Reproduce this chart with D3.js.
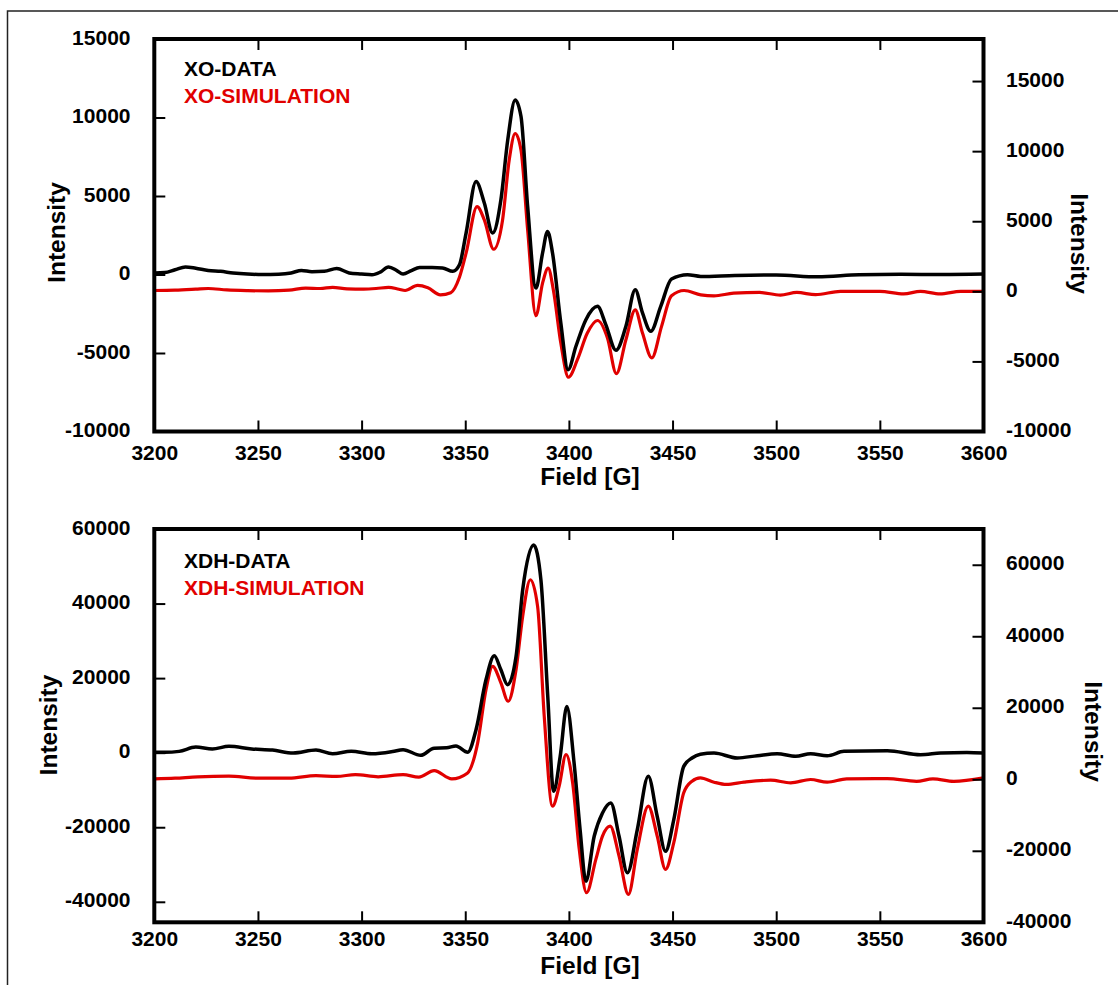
<!DOCTYPE html>
<html>
<head>
<meta charset="utf-8">
<script src="https://cdn.jsdelivr.net/npm/d3@7/dist/d3.min.js"></script>
<style>
  html, body { margin: 0; padding: 0; background: #fff; }
  svg { display: block; }
  text { font-family: "Liberation Sans", Arial, sans-serif; font-weight: bold; }
</style>
</head>
<body>
<svg id="chart" width="1118" height="985"></svg>
<script>
// ---------------- DATA ----------------
const fieldTicks = [3200, 3250, 3300, 3350, 3400, 3450, 3500, 3550, 3600];
const xoLeftTicks = [-10000, -5000, 0, 5000, 10000, 15000];
const xoRightTicks = [-10000, -5000, 0, 5000, 10000, 15000];
const xdhLeftTicks = [-40000, -20000, 0, 20000, 40000, 60000];
const xdhRightTicks = [-40000, -20000, 0, 20000, 40000, 60000];

const xoLegend = ["XO-DATA", "XO-SIMULATION"];
const xdhLegend = ["XDH-DATA", "XDH-SIMULATION"];

// [Field (G), Intensity]
const xoData = [[3200,100],[3205,120],[3210,300],[3215,480],[3220,400],[3226,260],[3232,200],[3238,100],[3245,30],[3252,0],[3260,20],[3266,100],[3271,260],[3276,180],[3282,200],[3288,380],[3294,100],[3300,30],[3305,-20],[3309,150],[3313,480],[3317,250],[3320,30],[3324,250],[3328,450],[3334,450],[3339,420],[3344,200],[3347.2,620],[3350.4,2640],[3355.2,5920],[3359.2,4550],[3363.2,2640],[3367.2,4760],[3370.5,8575],[3374.1,11120],[3376.9,10060],[3380.1,4330],[3384.1,-860],[3387.3,1370],[3389.7,2740],[3392.1,1370],[3396.1,-3090],[3399.6,-6060],[3403.4,-4570],[3408.2,-2880],[3413.8,-2030],[3417.8,-3190],[3422.7,-4830],[3427.5,-3300],[3432,-970],[3435.5,-2450],[3439.5,-3620],[3444.3,-2030],[3449.5,-290],[3457.2,-10],[3463.6,-120],[3480,-60],[3500,-30],[3520,-150],[3540,-20],[3560,10],[3580,0],[3600,30]];

const xoSim = [[3200,60],[3210,80],[3220,150],[3226,200],[3235,100],[3245,50],[3255,30],[3265,80],[3273,230],[3280,200],[3286,280],[3293,180],[3301,160],[3307,200],[3313,280],[3318,150],[3321,60],[3327,420],[3332,250],[3338,-250],[3343,-100],[3347.2,1000],[3350.4,2720],[3355.7,6040],[3359.2,5090],[3363.7,3000],[3368,5090],[3371.2,9360],[3374.1,11260],[3376.9,10070],[3380.1,4380],[3384.1,-1740],[3387.3,580],[3390,1650],[3392.5,100],[3396.1,-3690],[3399.8,-6130],[3404.1,-4880],[3408.9,-2980],[3413.8,-2080],[3418.6,-3330],[3422.9,-5870],[3427.5,-3450],[3432,-1320],[3435.5,-2980],[3440,-4750],[3444.7,-2500],[3449.5,-320],[3455.6,60],[3463.6,-250],[3470,-320],[3479.5,-130],[3492,-80],[3502,-270],[3510,-80],[3519,-240],[3531,0],[3550,0],[3561.5,-180],[3569.6,0],[3579,-180],[3589,0],[3600,0]];

const xdhData = [[3200,100],[3205,100],[3212,350],[3220,1500],[3228,1000],[3236,1700],[3247,1000],[3257,700],[3267,-100],[3278,700],[3286,-300],[3295,350],[3305,-300],[3315,300],[3320,800],[3328.5,-700],[3335,1200],[3341,1300],[3345.5,1800],[3351.2,90],[3355.2,6160],[3360,19550],[3364,25980],[3367.2,22230],[3370.4,18210],[3374.5,25800],[3377.7,43660],[3383,55720],[3386.5,46340],[3389.8,15090],[3392.6,-10360],[3395.8,-990],[3399,12400],[3402.5,-2760],[3405.4,-20630],[3408.2,-34470],[3412.2,-22420],[3416.2,-16160],[3420.2,-13480],[3424.2,-22420],[3428.2,-32230],[3433,-20630],[3438.3,-6350],[3442.6,-17070],[3446.6,-26450],[3450.6,-17950],[3455.4,-3670],[3459.4,-1420],[3463.4,-400],[3470,-90],[3481.2,-1420],[3490.9,-800],[3500.5,-270],[3509.4,-990],[3516.6,-270],[3524.6,-800],[3532.7,350],[3553.6,530],[3569.6,-540],[3579.3,-90],[3592,80],[3600,-90]];

const xdhSim = [[3200,100],[3210,300],[3221,700],[3236,870],[3250,300],[3265,300],[3278,1000],[3288,800],[3297,1300],[3308,700],[3320,1300],[3327.6,600],[3335,2400],[3343.5,100],[3351,1700],[3356,10200],[3360,25080],[3363.2,31590],[3367.2,26960],[3370.7,21820],[3374.5,30670],[3377.7,45560],[3381.4,55810],[3384.9,48350],[3388.1,17630],[3392.1,-7510],[3395.3,-1930],[3398.6,6930],[3401.8,-980],[3405,-19610],[3408.5,-31700],[3413,-22400],[3416.2,-15890],[3419.9,-13100],[3424.2,-21480],[3428.7,-32180],[3433,-19610],[3438.3,-7510],[3442.6,-15890],[3446.6,-25200],[3450.6,-17740],[3455.4,-3770],[3459.4,-530],[3463.4,420],[3470,-810],[3476,-1450],[3484.5,-810],[3497.3,-250],[3507,-980],[3516.6,-60],[3524.6,-810],[3534,120],[3553.6,200],[3567.7,-560],[3575.6,120],[3585.7,-560],[3600,400]];

// ---------------- DRAW ----------------
const svg = d3.select("#chart");
const BLACK = "#000000", RED = "#e10000";
const TICK_FONT = 21, TITLE_FONT = 24.5;

svg.append("rect").attr("x", 7.5).attr("y", 11).attr("width", 1300).attr("height", 1300)
  .attr("fill", "none").attr("stroke", "#222").attr("stroke-width", 1.5);

const panels = [
  { top: 39, bottom: 431.5, leftDom: [-10000, 15000], rightDom: [-10000, 18000],
    leftTicks: xoLeftTicks, rightTicks: xoRightTicks, data: xoData, sim: xoSim, legend: xoLegend,
    legendY: [76, 102.7], xPad: 13.6, titleY: 485,
    leftTitle: { x: 64.5, y: 232.5 }, rightTitle: { x: 1071, y: 243.5 } },
  { top: 529, bottom: 922.3, leftDom: [-45500, 60000], rightDom: [-40000, 70000],
    leftTicks: xdhLeftTicks, rightTicks: xdhRightTicks, data: xdhData, sim: xdhSim, legend: xdhLegend,
    legendY: [568, 595], xPad: 8.3, titleY: 974,
    leftTitle: { x: 57, y: 725 }, rightTitle: { x: 1085, y: 731.5 } }
];

const X0 = 154.3, X1 = 983.5;
const fmt = d => String(d);

panels.forEach(p => {
  const x = d3.scaleLinear().domain([3200, 3600]).range([X0, X1]);
  const yL = d3.scaleLinear().domain(p.leftDom).range([p.bottom, p.top]);
  const yR = d3.scaleLinear().domain(p.rightDom).range([p.bottom, p.top]);

  const g = svg.append("g");

  // lines
  const lineL = d3.line().x(d => x(d[0])).y(d => yL(d[1])).curve(d3.curveMonotoneX);
  const lineR = d3.line().x(d => x(d[0])).y(d => yR(d[1])).curve(d3.curveMonotoneX);
  g.append("path").datum(p.sim).attr("d", lineR).attr("fill", "none")
    .attr("stroke", RED).attr("stroke-width", 3.2).attr("stroke-linejoin", "round");
  g.append("path").datum(p.data).attr("d", lineL).attr("fill", "none")
    .attr("stroke", BLACK).attr("stroke-width", 3.5).attr("stroke-linejoin", "round");

  // axes
  const styleAxis = sel => {
    sel.select(".domain").remove();
    sel.selectAll(".tick line").attr("stroke", "#000").attr("stroke-width", 2);
    sel.selectAll(".tick text").attr("fill", "#000")
      .style("font-size", TICK_FONT + "px").style("font-weight", "bold")
      .style("font-family", '"Liberation Sans", Arial, sans-serif');
  };
  g.append("g").attr("transform", `translate(0,${p.bottom})`)
    .call(d3.axisBottom(x).tickValues(fieldTicks).tickFormat(fmt).tickSize(-11).tickPadding(p.xPad))
    .call(styleAxis);
  g.append("g").attr("transform", `translate(0,${p.top})`)
    .call(d3.axisTop(x).tickValues(fieldTicks).tickFormat(() => "").tickSize(-11))
    .call(styleAxis);
  g.append("g").attr("transform", `translate(${X0},0)`)
    .call(d3.axisLeft(yL).tickValues(p.leftTicks).tickFormat(fmt).tickSize(-11).tickPadding(23.8))
    .call(styleAxis)
    .selectAll(".tick text").attr("dy", "0.24em");
  g.append("g").attr("transform", `translate(${X1},0)`)
    .call(d3.axisRight(yR).tickValues(p.rightTicks).tickFormat(fmt).tickSize(-11).tickPadding(22.5))
    .call(styleAxis)
    .selectAll(".tick text").attr("dy", "0.24em");

  // frame
  g.append("rect").attr("x", X0).attr("y", p.top).attr("width", X1 - X0).attr("height", p.bottom - p.top)
    .attr("fill", "none").attr("stroke", "#000").attr("stroke-width", 4);

  // legend
  g.append("text").attr("x", 184).attr("y", p.legendY[0]).attr("fill", BLACK)
    .style("font-size", TICK_FONT + "px").text(p.legend[0]);
  g.append("text").attr("x", 184).attr("y", p.legendY[1]).attr("fill", RED)
    .style("font-size", TICK_FONT + "px").text(p.legend[1]);

  // titles
  g.append("text").attr("x", 590).attr("y", p.titleY).attr("text-anchor", "middle")
    .style("font-size", TITLE_FONT + "px").text("Field [G]");
  g.append("text").attr("transform", `translate(${p.leftTitle.x},${p.leftTitle.y}) rotate(-90)`)
    .attr("text-anchor", "middle").style("font-size", TITLE_FONT + "px").text("Intensity");
  g.append("text").attr("transform", `translate(${p.rightTitle.x},${p.rightTitle.y}) rotate(90)`)
    .attr("text-anchor", "middle").style("font-size", TITLE_FONT + "px").text("Intensity");
});
</script>
</body>
</html>
